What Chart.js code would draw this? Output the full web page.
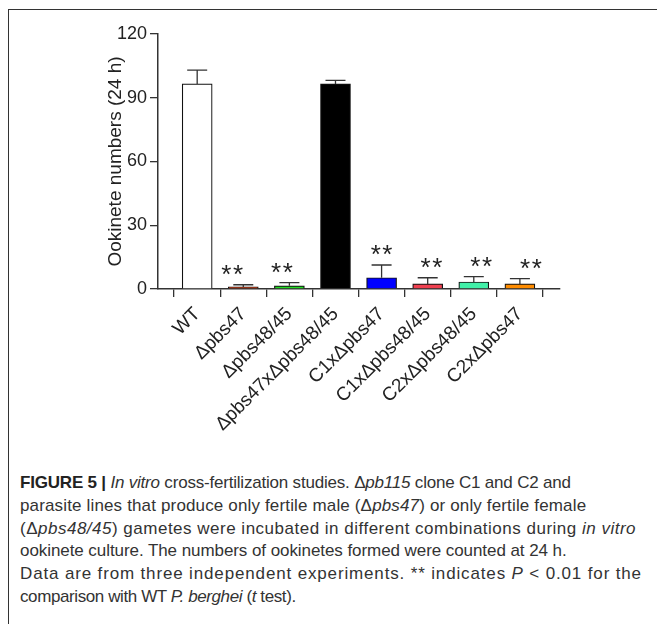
<!DOCTYPE html>
<html>
<head>
<meta charset="utf-8">
<script src="https://cdn.jsdelivr.net/npm/chart.js@4/dist/chart.umd.min.js"></script>
<style>
  html, body { margin: 0; padding: 0; background: #fff; }
  body { width: 657px; height: 624px; position: relative; overflow: hidden; font-family: "Liberation Sans", Arial, sans-serif; }
  #frame { position: absolute; left: 8px; top: 9px; width: 660px; height: 630px; border-left: 1.5px solid #333; border-top: 1.5px solid #333; box-sizing: border-box; }
  #wrap { position: absolute; left: 0; top: 0; width: 657px; height: 470px; }
  #caption { position: absolute; left: 20px; top: 472px; font-size: 17px; line-height: 22.8px; color: #333; white-space: nowrap; }
  #caption b { color: #222; }
</style>
</head>
<body>
<div id="frame"></div>
<div id="wrap"><canvas id="c" width="657" height="470"></canvas></div>
<div id="caption">
<div style="letter-spacing:-0.2px"><b>FIGURE 5 |</b> <i>In vitro</i> cross-fertilization studies. Δ<i>pb115</i> clone C1 and C2 and</div>
<div style="letter-spacing:0.15px">parasite lines that produce only fertile male (Δ<i>pbs47</i>) or only fertile female</div>
<div style="letter-spacing:0.5px">(Δ<i>pbs48/45</i>) gametes were incubated in different combinations during <i>in vitro</i></div>
<div style="letter-spacing:-0.07px">ookinete culture. The numbers of ookinetes formed were counted at 24 h.</div>
<div style="letter-spacing:0.85px">Data are from three independent experiments. ** indicates <i>P</i> &lt; 0.01 for the</div>
<div style="letter-spacing:-0.4px">comparison with WT <i>P. berghei</i> (<i>t</i> test).</div>
</div>
<script>
const categories = ['WT', 'Δpbs47', 'Δpbs48/45', 'Δpbs47xΔpbs48/45', 'C1xΔpbs47', 'C1xΔpbs48/45', 'C2xΔpbs48/45', 'C2xΔpbs47'];
const means = [96.5, 1.0, 1.5, 96.5, 5.3, 2.4, 3.3, 2.4];
const errors = [6.5, 1.0, 1.5, 1.7, 6.0, 2.9, 2.5, 2.5];
const significance = ['', '**', '**', '', '**', '**', '**', '**'];
const barColors = ['#ffffff', '#c0401c', '#22dd22', '#000000', '#0000ff', '#f04050', '#40f0a8', '#ff8c00'];
const yTicks = [0, 30, 60, 90, 120];

const AXIS = '#333333';
const TXT = '#222222';

const errorPlugin = {
  id: 'errs',
  afterDatasetsDraw(chart) {
    const ctx = chart.ctx;
    const xs = chart.scales.x, ys = chart.scales.y;
    ctx.save();
    ctx.strokeStyle = '#333';
    ctx.lineWidth = 1.3;
    for (let i = 0; i < means.length; i++) {
      const x = xs.getPixelForValue(i);
      const y0 = ys.getPixelForValue(means[i]);
      const y1 = ys.getPixelForValue(means[i] + errors[i]);
      ctx.beginPath();
      ctx.moveTo(x, y0);
      ctx.lineTo(x, y1);
      ctx.moveTo(x - 10, y1);
      ctx.lineTo(x + 10, y1);
      ctx.stroke();
      if (significance[i]) {
        ctx.fillStyle = '#222';
        ctx.font = '26px "Liberation Sans", Arial, sans-serif';
        ctx.textAlign = 'center';
        ctx.textBaseline = 'alphabetic';
        try { ctx.letterSpacing = '1.5px'; } catch (e) {}
        // the star pairs in the figure drift slightly across the axis
        const drift = (i - 4) * 3.7;
        ctx.fillText(significance[i], x + drift + 0.75, y1 - 2);
      }
    }
    ctx.restore();
  }
};

new Chart(document.getElementById('c'), {
  type: 'bar',
  data: {
    datasets: [{
      data: means.map((m, i) => ({ x: i, y: m })),
      backgroundColor: barColors,
      borderColor: '#111',
      borderWidth: 1.2,
      barThickness: 30
    }]
  },
  options: {
    responsive: false,
    animation: false,
    layout: { padding: { left: 90, top: 34, right: 97, bottom: 31 } },
    plugins: { legend: { display: false }, tooltip: { enabled: false } },
    scales: {
      x: {
        type: 'linear',
        min: -0.85,
        max: 7.87,
        offset: false,
        afterBuildTicks(axis) { axis.ticks = categories.map((c, i) => ({ value: i })); },
        afterFit(axis) { axis.height = 150; },
        grid: { display: true, drawOnChartArea: false, drawTicks: true, tickLength: 8, color: AXIS, lineWidth: 1.3 },
        border: { display: true, color: AXIS, width: 1.5 },
        ticks: {
          autoSkip: false,
          minRotation: 45,
          maxRotation: 45,
          padding: 6,
          color: TXT,
          font: { family: '"Liberation Sans", Arial, sans-serif', size: 19 },
          callback: (v) => categories[v] !== undefined ? categories[v] : ''
        }
      },
      y: {
        min: 0,
        max: 120,
        afterBuildTicks(axis) { axis.ticks = yTicks.map(v => ({ value: v })); },
        afterFit(axis) { axis.width = 68; },
        grid: { display: true, drawOnChartArea: false, drawTicks: true, tickLength: 8, color: AXIS, lineWidth: 1.3 },
        border: { display: true, color: AXIS, width: 1.5 },
        ticks: {
          padding: 3,
          color: TXT,
          font: { family: '"Liberation Sans", Arial, sans-serif', size: 18 }
        },
        title: {
          display: true,
          text: 'Ookinete numbers (24 h)',
          color: TXT,
          padding: { top: 14, bottom: 0 },
          font: { family: '"Liberation Sans", Arial, sans-serif', size: 19 }
        }
      }
    }
  },
  plugins: [errorPlugin]
});
</script>
</body>
</html>
